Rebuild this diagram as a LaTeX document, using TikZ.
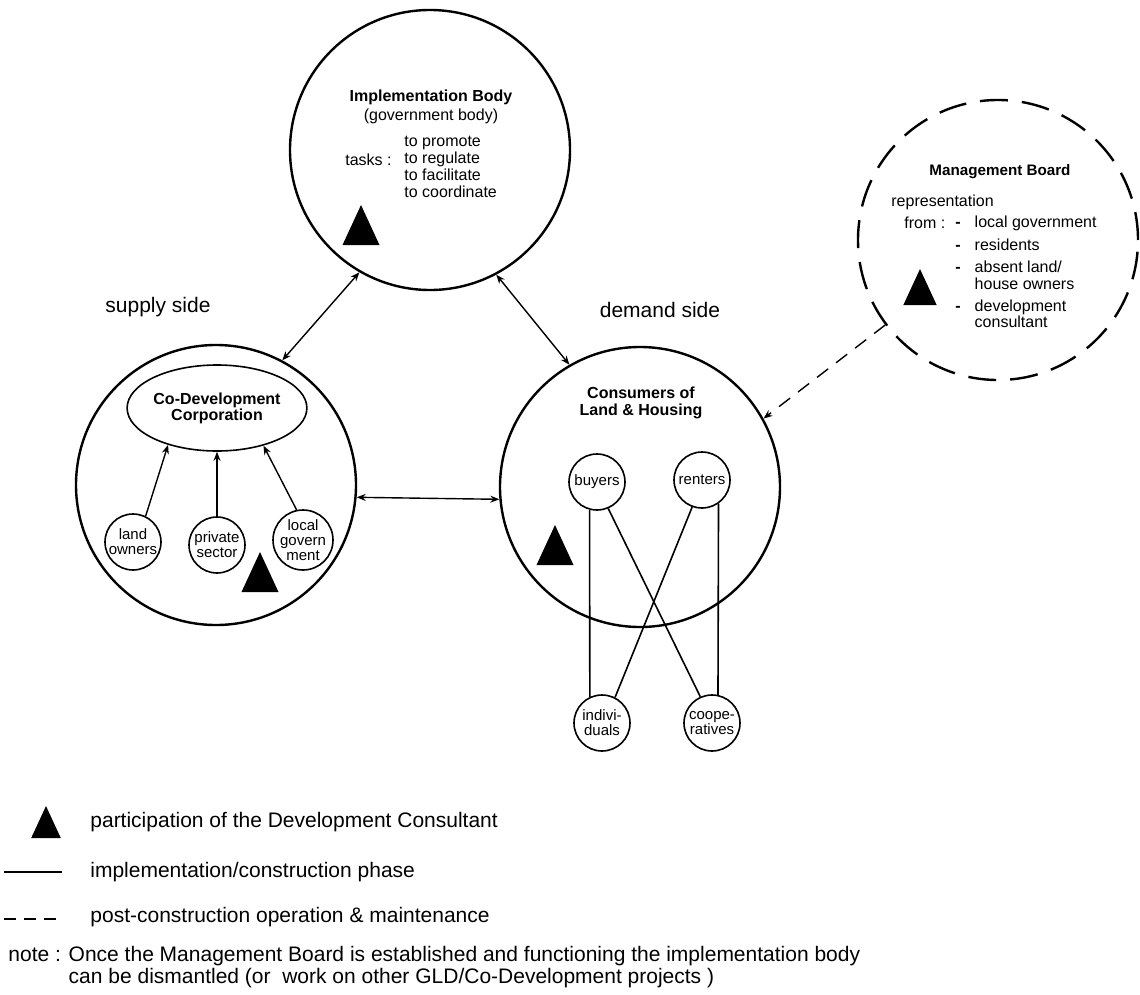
\documentclass[tikz,border=0pt]{standalone}
\usepackage{fontspec}
\setmainfont{Liberation Sans}
\usetikzlibrary{arrows.meta,shapes.geometric}

\begin{document}
\begin{tikzpicture}[x=.5pt,y=-.5pt,
	bigc/.style={draw,circle,line width=1.2pt,minimum size=140pt,inner sep=0pt},
	smallc/.style={draw,circle,line width=.8pt,minimum size=28pt,inner sep=-3pt,align=center,font=\fontsize{7.5}{7.5}\selectfont},
	link/.style={line width=.7pt,{Stealth[length=4.5pt,width=3.5pt]}-{Stealth[length=4.5pt,width=3.5pt]}},
	feed/.style={line width=.7pt,-{Stealth[length=4.5pt,width=3.5pt]}},
	plain/.style={line width=.8pt},
	txt/.style={font=\fontsize{8}{8}\selectfont,inner sep=0pt},
	ttl/.style={font=\bfseries\fontsize{8}{8.5}\selectfont,inner sep=0pt,align=center},
	side/.style={font=\fontsize{10.5}{12}\selectfont,inner sep=0pt},
	leg/.style={font=\fontsize{10.5}{11}\selectfont,inner sep=0pt,anchor=west},
	dc/.pic={\fill (-18.5,20) -- (0,-20) -- (18.5,20) -- cycle;}]
	\useasboundingbox (0,0) rectangle (1140,995);
	%IMPLEMENTATION BODY
	\node[bigc] (imp) at (430,150) {};
	\node[ttl] (impT) at (431,97) {Implementation Body};
	\node[txt] (impG) at (431,116) {(government body)};
	\node[txt,anchor=north west,align=left,font=\fontsize{8}{8.4}\selectfont] (tasks) at (404,136) {to promote\\to regulate\\to facilitate\\to coordinate};
	\node[txt,anchor=east] (tasksL) at (392,160) {tasks :};
	\pic at (361,225) {dc};
	%MANAGEMENT BOARD
	\node[bigc,dash pattern=on 14pt off 7pt] (mgmt) at (998,240) {};
	\node[ttl,font=\bfseries\fontsize{7.6}{8}\selectfont] (mgmtT) at (1000,172) {Management Board};
	\node[txt,anchor=west] (rep) at (891,202) {representation};
	\node[txt,anchor=west] (from) at (904,223) {from :};
	\node[txt,anchor=north west] (members) at (955,216) {\begin{tabular}{@{}l@{\hspace{7pt}}l@{}}
		\textbf{-} & local government\\[3pt]
		\textbf{-} & residents\\[3pt]
		\textbf{-} & absent land/\\
		& house owners\\[3pt]
		\textbf{-} & development\\
		& consultant
	\end{tabular}};
	\pic[scale=.9] at (920,287) {dc};
	%SUPPLY SIDE
	\node[side] (supT) at (158,307) {supply side};
	\node[bigc] (supply) at (216,485) {};
	\node[draw,ellipse,line width=.8pt,minimum width=74pt,minimum height=43pt,inner sep=0pt,font=\bfseries\fontsize{8}{8}\selectfont,align=center] (codev) at (217,408) {Co-Development\\Corporation};
	\node[smallc] (land) at (133,542) {land\\owners};
	\node[smallc] (priv) at (217,545) {private\\sector};
	\node[smallc,minimum size=30pt] (locgov) at (303,540) {local\\govern\\ment};
	\draw[feed] (land.64) -- (codev.217);
	\draw[feed] (priv.north) -- (codev.south);
	\draw[feed] (locgov.102) -- (codev.321);
	\pic at (260,572) {dc};
	%DEMAND SIDE
	\node[side] (demT) at (660,310) {demand side};
	\node[bigc] (demand) at (640,487) {};
	\node[ttl] (demandT) at (641,403) {Consumers of\\Land \& Housing};
	\node[smallc] (buyers) at (597,482) {buyers};
	\node[smallc] (renters) at (702,480) {renters};
	\node[smallc] (indiv) at (602,723) {indivi-\\duals};
	\node[smallc] (coop) at (712,723) {coope-\\ratives};
	\draw[plain] (buyers.255) -- (indiv.115);
	\draw[plain] (buyers.293) -- (coop.114);
	\draw[plain] (renters.250) -- (indiv.63);
	\draw[plain] (renters.305) -- (coop.78);
	\pic at (555,545) {dc};
	%CONNECTIONS
	\draw[link] (imp.240) -- (supply.62);
	\draw[link] (imp.298) -- (demand.120);
	\draw[link] (supply.-5) -- (demand.185);
	\draw[feed,dash pattern=on 7pt off 5pt] (mgmt.217) -- (demand.29);
	%LEGEND
	\pic[scale=.8] at (46,822) {dc};
	\node[leg] (legA) at (90,822) {participation of the Development Consultant};
	\coordinate (solA) at (4,872);
	\coordinate (solB) at (62,872);
	\draw[plain] (solA) -- (solB);
	\node[leg] (legB) at (90,872) {implementation/construction phase};
	\coordinate (dasA) at (4,919);
	\coordinate (dasB) at (62,919);
	\draw[plain,dash pattern=on 6pt off 4pt] (dasA) -- (dasB);
	\node[leg] (legC) at (90,917) {post-construction operation \& maintenance};
	\node[leg,align=left,anchor=north west] (note) at (8,946) {note : Once the Management Board is established and functioning the implementation body\\\phantom{note : }can be dismantled (or\ \ work on other GLD/Co-Development projects )};
\end{tikzpicture}
\end{document}
